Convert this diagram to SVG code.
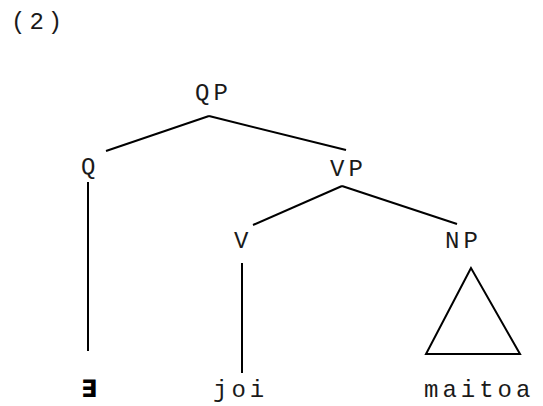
<svg xmlns="http://www.w3.org/2000/svg" width="543" height="406" viewBox="0 0 543 406">
  <style>
    .lbl { font-family: "Liberation Mono", "Courier New", monospace; font-size: 24px; letter-spacing: 4px; fill: #1a1a1a; }
    .ex { font-family: "DejaVu Sans", sans-serif; font-size: 24px; font-weight: bold; fill: #000; }
    .edge { stroke: #000; stroke-width: 2; fill: none; stroke-linecap: butt; }
  </style>
  <rect width="543" height="406" fill="#fff"/>

  <text class="lbl" x="11" y="29">(2)</text>

  <!-- tree branches -->
  <g id="connectors">
    <line class="edge" x1="209" y1="116" x2="106" y2="151"/>
    <line class="edge" x1="209" y1="116" x2="346" y2="150"/>
    <line class="edge" x1="342" y1="186" x2="253" y2="225"/>
    <line class="edge" x1="342" y1="186" x2="457" y2="224"/>
    <line class="edge" x1="88" y1="182" x2="88" y2="351"/>
    <line class="edge" x1="242" y1="263" x2="242" y2="373"/>
  </g>

  <g id="QP"><text class="lbl" x="195" y="100">QP</text></g>
  <g id="Q"><text class="lbl" x="81" y="174">Q</text></g>
  <g id="VP"><text class="lbl" x="330" y="176">VP</text></g>
  <g id="V"><text class="lbl" x="234" y="248">V</text></g>
  <g id="NP">
    <text class="lbl" x="445" y="248">NP</text>
    <polygon class="edge" points="471,268 426,354 520,354"/>
  </g>
  <g id="exists"><text class="ex" x="81" y="397">∃</text></g>
  <g id="joi"><text class="lbl" x="213" y="397">joi</text></g>
  <g id="maitoa"><text class="lbl" x="424" y="397">maitoa</text></g>
</svg>
